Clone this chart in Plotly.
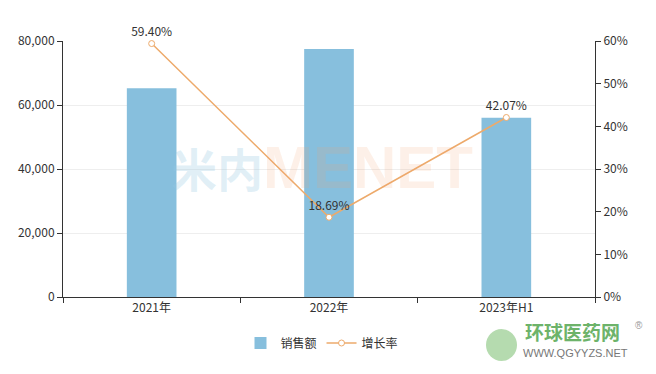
import plotly.graph_objects as go

categories = ["2021年", "2022年", "2023年H1"]
sales = [65200, 77500, 56000]
growth = [59.40, 18.69, 42.07]
growth_labels = ["59.40%", "18.69%", "42.07%"]
left_ticks = [0, 20000, 40000, 60000, 80000]
left_tick_text = ["0", "20,000", "40,000", "60,000", "80,000"]
right_ticks = [0, 10, 20, 30, 40, 50, 60]
right_tick_text = ["0%", "10%", "20%", "30%", "40%", "50%", "60%"]

FONT = "Noto Sans CJK SC, Microsoft YaHei, sans-serif"
BAR = "#87BFDD"
LINE = "#EDAA6B"
AX = "#333333"

L, R, T, B = 63, 61, 41, 77
W, H = 656, 374
pw, ph = W - L - R, H - T - B


def px(x):
    return (x - L) / pw


def py(y):
    return (H - B - y) / ph


fig = go.Figure()
fig.add_trace(go.Bar(
    x=categories, y=sales, name="销售额", marker=dict(color=BAR, line=dict(width=0)),
    width=0.28, yaxis="y",
))
fig.add_trace(go.Scatter(
    x=categories, y=growth, name="增长率", yaxis="y2",
    mode="lines+markers+text", text=growth_labels, textposition="top center",
    textfont=dict(size=12, color="#333", family=FONT),
    line=dict(color=LINE, width=1.5),
    marker=dict(symbol="circle", size=6, color="white", line=dict(color=LINE, width=1)),
    cliponaxis=False,
))

fig.update_layout(
    width=W, height=H,
    margin=dict(l=L, r=R, t=T, b=B),
    paper_bgcolor="white", plot_bgcolor="white",
    font=dict(family=FONT, size=12, color="#333"),
    showlegend=True,
    legend=dict(orientation="h", x=px(322), xanchor="center", y=py(343), yanchor="middle",
                font=dict(size=12, color="#333", family=FONT), itemwidth=30,
                bgcolor="rgba(0,0,0,0)"),
    xaxis=dict(type="category", tickson="boundaries", ticks="outside", ticklen=5,
               tickcolor=AX, showline=True, linecolor=AX, linewidth=1,
               showgrid=False, tickfont=dict(size=12, color="#333")),
    yaxis=dict(range=[0, 80000], tickvals=left_ticks, ticktext=left_tick_text,
               ticks="outside", ticklen=5, tickcolor=AX, showline=True, linecolor=AX,
               linewidth=1, showgrid=True, gridcolor="#EEEEEE", zeroline=False,
               tickfont=dict(size=12, color="#333")),
    yaxis2=dict(range=[0, 60], tickvals=right_ticks, ticktext=right_tick_text,
                overlaying="y", side="right", ticks="outside", ticklen=5, tickcolor=AX,
                showline=True, linecolor=AX, linewidth=1, showgrid=False, zeroline=False,
                tickfont=dict(size=12, color="#333")),
)


def note(text, x, y, size, color, family=FONT):
    fig.add_annotation(text=text, xref="paper", yref="paper", x=px(x), y=py(y),
                       xanchor="center", yanchor="middle", showarrow=False,
                       font=dict(size=size, color=color, family=family))


# watermark
note("<b>米内</b>", 217, 167, 46, "rgba(150,200,225,0.28)")
note("<b>MENET</b>", 368, 167, 60, "rgba(245,160,110,0.16)", "Liberation Sans, Arial")

# logo bottom-right
fig.add_shape(type="circle", xref="paper", yref="paper", x0=px(486), x1=px(517),
              y0=py(361), y1=py(329), fillcolor="rgba(120,190,110,0.55)", line=dict(width=0))
note("<b>环球医药网</b>", 572, 331, 19, "#6DB36A")
note("WWW.QGYYZS.NET", 575, 353, 11, "#777", "Liberation Sans, Arial")
note("®", 639, 325, 10, "#999", "Liberation Sans, Arial")

fig.write_html("out.html")
